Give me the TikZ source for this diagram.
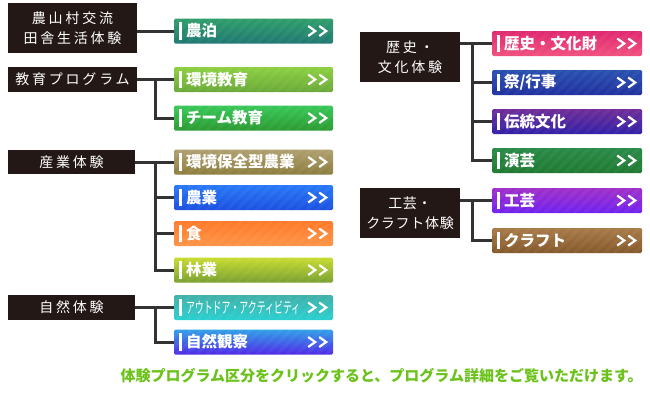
\documentclass[tikz,border=0pt]{standalone}
\usepackage{fontspec}
\usepackage{graphicx}
\setmainfont{Noto Sans CJK JP}
\definecolor{catbg}{HTML}{231815}
\definecolor{linec}{HTML}{333333}
\definecolor{notice}{HTML}{6BC21A}
\definecolor{b1t}{HTML}{2E9E6A}\definecolor{b1b}{HTML}{1F7872}
\definecolor{b2t}{HTML}{8CD040}\definecolor{b2b}{HTML}{6AA838}
\definecolor{b3t}{HTML}{38C858}\definecolor{b3b}{HTML}{2A9A30}
\definecolor{b4t}{HTML}{B0A070}\definecolor{b4b}{HTML}{8C7C3C}
\definecolor{b5t}{HTML}{2878F8}\definecolor{b5b}{HTML}{1A50E0}
\definecolor{b6t}{HTML}{FF7A28}\definecolor{b6b}{HTML}{FF9448}
\definecolor{b7t}{HTML}{C8DC30}\definecolor{b7b}{HTML}{78A030}
\definecolor{b8t}{HTML}{40B0A8}\definecolor{b8b}{HTML}{28D0D0}
\definecolor{b9t}{HTML}{30A0E8}\definecolor{b9b}{HTML}{5028E8}
\definecolor{r1t}{HTML}{E02870}\definecolor{r1b}{HTML}{F0507E}
\definecolor{r2t}{HTML}{2850B0}\definecolor{r2b}{HTML}{2030A0}
\definecolor{r3t}{HTML}{702C98}\definecolor{r3b}{HTML}{3020A8}
\definecolor{r4t}{HTML}{2A8A48}\definecolor{r4b}{HTML}{1E7A30}
\definecolor{r5t}{HTML}{A030C8}\definecolor{r5b}{HTML}{7020F0}
\definecolor{r6t}{HTML}{A87A48}\definecolor{r6b}{HTML}{84582A}
\tikzset{
  cat/.style={fill=catbg, text=white, inner sep=0pt, align=center,
    font=\fontsize{14}{20}\selectfont\addfontfeatures{LetterSpace=20}},
  btnbase/.style={minimum height=25pt, inner sep=0pt, rounded corners=1.5pt,
    path picture={\foreach \k in {-40,-30,...,170}{
      \fill[white,opacity=0.045] ([xshift=\k pt]path picture bounding box.south west)
        -- ++(5pt,0pt) -- ++(30pt,30pt) -- ++(-5pt,0pt) -- cycle;}}},
  btnL/.style={btnbase, minimum width=159pt},
  btnR/.style={btnbase, minimum width=150pt},
  btext/.style={text=white, inner sep=0pt, anchor=west,
    font=\fontsize{15.5}{18}\selectfont\bfseries},
  conn/.style={draw=linec, line width=3pt},
  chev/.style={draw=white, line width=2.2pt},
}
\newcommand\mkbtn[6]{% style, name, center, top, bottom, text
  \node[#1, top color=#4, bottom color=#5] (#2) at #3 {};
  \fill[white] ([xshift=5pt,yshift=-4pt]#2.north west) rectangle ([xshift=8pt,yshift=4pt]#2.south west);
  \node[btext] (#2t) at ([xshift=12pt]#2.west) {#6};
  \draw[chev] ([xshift=-25pt,yshift=5pt]#2.east) -- ([xshift=-18pt]#2.east) -- ([xshift=-25pt,yshift=-5pt]#2.east);
  \draw[chev] ([xshift=-14pt,yshift=5pt]#2.east) -- ([xshift=-7pt]#2.east) -- ([xshift=-14pt,yshift=-5pt]#2.east);
}
\begin{document}
\begin{tikzpicture}[x=1pt,y=-1pt]
\fill[white] (0,0) rectangle (650,400);
\useasboundingbox (0,0) rectangle (650,400);

% category boxes
\node[cat, minimum width=129pt, minimum height=50pt] (c1) at (72.5,28) {農山村交流\\田舎生活体験};
\node[cat, minimum width=129pt, minimum height=25pt] (c2) at (72.5,79.5) {教育プログラム};
\node[cat, minimum width=127pt, minimum height=24pt] (c3) at (71.5,162) {産業体験};
\node[cat, minimum width=127pt, minimum height=25pt] (c4) at (71.5,307.5) {自然体験};
\node[cat, minimum width=100pt, minimum height=50pt] (c5) at (410,57) {歴史・\\文化体験};
\node[cat, minimum width=100pt, minimum height=50pt,
  font=\fontsize{14}{20}\selectfont\addfontfeatures{LetterSpace=5}] (c6) at (410,213) {工芸・\\クラフト体験};

% trunk coordinates
\coordinate (tl) at (155,0);
\coordinate (tr) at (472,0);

% connectors (drawn first, under buttons)
\draw[conn] (c1.east |- 0,31) -- (174,31);
\draw[conn] (c2.east) -- (174,79.5);
\draw[conn] (tl |- c2.east) |- (174,118);
\draw[conn] (c3.east) -- (174,162);
\draw[conn] (tl |- c3.east) |- (174,270);
\draw[conn] (tl |- 0,197.5) -- (174,197.5);
\draw[conn] (tl |- 0,233.5) -- (174,233.5);
\draw[conn] (c4.east) -- (174,307.5);
\draw[conn] (tl |- c4.east) |- (174,342);
\draw[conn] (c5.east |- 0,43.5) -- (492,43.5);
\draw[conn] (tr |- 0,43.5) |- (492,160.5);
\draw[conn] (tr |- 0,82.5) -- (492,82.5);
\draw[conn] (tr |- 0,121.5) -- (492,121.5);
\draw[conn] (c6.east |- 0,200.5) -- (492,200.5);
\draw[conn] (tr |- 0,200.5) |- (492,240.5);

% buttons left
\mkbtn{btnL}{b1}{(253.5,31)}{b1t}{b1b}{農泊}
\mkbtn{btnL}{b2}{(253.5,79.5)}{b2t}{b2b}{環境教育}
\mkbtn{btnL}{b3}{(253.5,118)}{b3t}{b3b}{チーム教育}
\mkbtn{btnL}{b4}{(253.5,162)}{b4t}{b4b}{環境保全型農業}
\mkbtn{btnL}{b5}{(253.5,197.5)}{b5t}{b5b}{農業}
\mkbtn{btnL}{b6}{(253.5,233.5)}{b6t}{b6b}{食}
\mkbtn{btnL}{b7}{(253.5,270)}{b7t}{b7b}{林業}
\mkbtn{btnL}{b8}{(253.5,307.5)}{b8t}{b8b}{\mdseries\scalebox{0.575}[1]{アウトドア・アクティビティ}}
\mkbtn{btnL}{b9}{(253.5,342)}{b9t}{b9b}{自然観察}
% buttons right
\mkbtn{btnR}{r1}{(567,43.5)}{r1t}{r1b}{歴史・文化財}
\mkbtn{btnR}{r2}{(567,82.5)}{r2t}{r2b}{祭/行事}
\mkbtn{btnR}{r3}{(567,121.5)}{r3t}{r3b}{伝統文化}
\mkbtn{btnR}{r4}{(567,160.5)}{r4t}{r4b}{演芸}
\mkbtn{btnR}{r5}{(567,200.5)}{r5t}{r5b}{工芸}
\mkbtn{btnR}{r6}{(567,240.5)}{r6t}{r6b}{クラフト}

% notice
\node[text=notice, inner sep=0pt, font=\fontsize{15}{17}\selectfont\bfseries] (note) at (381.5,376)
  {体験プログラム区分をクリックすると、プログラム詳細をご覧いただけます。};
\end{tikzpicture}
\end{document}
